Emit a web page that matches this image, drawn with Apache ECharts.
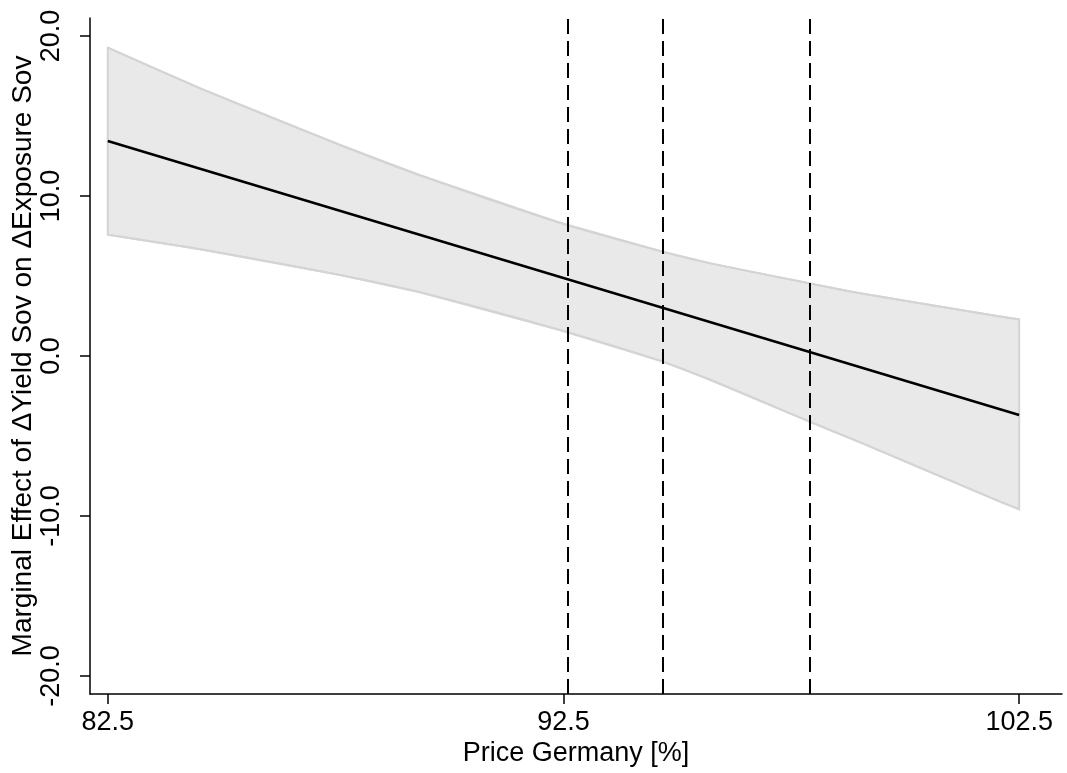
<!DOCTYPE html>
<html>
<head>
<meta charset="utf-8">
<title>Marginal Effect</title>
<script src="https://cdn.jsdelivr.net/npm/echarts@6/dist/echarts.min.js"></script>
<style>
  html, body { margin: 0; padding: 0; background: #fff; }
  #chart { width: 1067px; height: 773px; }
</style>
</head>
<body>
<div id="chart"></div>
<script>
// x positions of the confidence band
var bandX = [82.5, 84.53, 87.6, 89.35, 92.42, 94.68, 95.73, 97.9, 99.01, 102.08, 102.5];
// upper / lower bound of the band
var bandUpper = [19.27, 16.73, 13.19, 11.3, 8.33, 6.52, 5.79, 4.54, 3.92, 2.47, 2.29];
var bandLower = [7.58, 6.67, 5.06, 3.98, 1.63, -0.35, -1.5, -4.1, -5.4, -9.1, -9.58];
// marginal effect line
var lineX = [82.5, 102.5];
var lineY = [13.44, -3.69];
// dashed reference lines
var refX = [92.6, 94.68, 97.9];
// tick labels
var xTicks = [82.5, 92.5, 102.5];
var yTicks = [-20, -10, 0, 10, 20];

var myChart = echarts.init(document.getElementById('chart'));

var lineData = [];
for (var i = 0; i < lineX.length; i++) {
  lineData.push([lineX[i], lineY[i]]);
}
var upperData = [];
var lowerData = [];
for (var k = 0; k < bandX.length; k++) {
  upperData.push([bandX[k], bandUpper[k]]);
  lowerData.push([bandX[k], bandLower[k]]);
}

var fontName = 'Liberation Sans, Arial, sans-serif';
var bandEdge = '#d4d4d4';

var option = {
  animation: false,
  backgroundColor: '#fff',
  grid: {
    left: 90,
    top: 18,
    width: 972,
    bottom: 79,
    containLabel: false,
    outerBoundsMode: 'none'
  },
  xAxis: {
    type: 'value',
    min: 82.11,
    max: 103.44,
    name: 'Price Germany [%]',
    nameLocation: 'middle',
    nameGap: 46,
    nameMoveOverlap: false,
    nameTextStyle: { fontFamily: fontName, fontSize: 27, color: '#000' },
    splitLine: { show: false },
    axisLine: { onZero: false, lineStyle: { color: '#000', width: 1.5 } },
    axisTick: { length: 10, customValues: xTicks, lineStyle: { color: '#000', width: 1.5 } },
    axisLabel: {
      customValues: xTicks,
      margin: 15,
      fontFamily: fontName,
      fontSize: 27,
      color: '#000',
      formatter: function (v) { return v.toFixed(1); }
    }
  },
  yAxis: {
    type: 'value',
    min: -21.125,
    max: 21.125,
    name: 'Marginal Effect of \u0394Yield Sov on \u0394Exposure Sov',
    nameLocation: 'middle',
    nameGap: 53,
    nameMoveOverlap: false,
    nameTextStyle: { fontFamily: fontName, fontSize: 28, color: '#000' },
    splitLine: { show: false },
    axisLine: { show: true, onZero: false, lineStyle: { color: '#000', width: 1.5 } },
    axisTick: { show: true, length: 10, customValues: yTicks, lineStyle: { color: '#000', width: 1.5 } },
    axisLabel: {
      customValues: yTicks,
      rotate: 90,
      margin: 25,
      fontFamily: fontName,
      fontSize: 27,
      color: '#000',
      formatter: function (v) { return v.toFixed(1); }
    }
  },
  series: [
    {
      // 置信区间 (fill + end edges)
      type: 'custom',
      silent: true,
      data: [[bandX[0], bandUpper[0]]],
      renderItem: function (params, api) {
        var pts = [];
        for (var i = 0; i < bandX.length; i++) {
          pts.push(api.coord([bandX[i], bandUpper[i]]));
        }
        for (var j = bandX.length - 1; j >= 0; j--) {
          pts.push(api.coord([bandX[j], bandLower[j]]));
        }
        return {
          type: 'polygon',
          shape: { points: pts },
          style: { fill: '#e9e9e9', stroke: bandEdge, lineWidth: 2 }
        };
      },
      z: 1
    },
    {
      // upper edge
      type: 'line',
      data: upperData,
      symbol: 'none',
      smooth: 0.3,
      silent: true,
      lineStyle: { color: bandEdge, width: 2 },
      z: 2
    },
    {
      // lower edge
      type: 'line',
      data: lowerData,
      symbol: 'none',
      smooth: 0.3,
      silent: true,
      lineStyle: { color: bandEdge, width: 2 },
      z: 2
    },
    {
      type: 'line',
      data: lineData,
      symbol: 'none',
      lineStyle: { color: '#000', width: 2.5 },
      z: 3,
      markLine: {
        silent: true,
        symbol: 'none',
        label: { show: false },
        lineStyle: { color: '#000', width: 2, type: [15, 7] },
        data: refX.map(function (v) { return { xAxis: v }; })
      }
    }
  ]
};

myChart.setOption(option);
</script>
</body>
</html>
